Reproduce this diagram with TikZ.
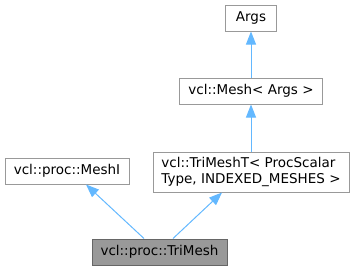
\documentclass[tikz,border=0pt]{standalone}
\usepackage{fontspec}
\setmainfont{DejaVu Sans}
\usetikzlibrary{arrows.meta}
\definecolor{herencia}{HTML}{63B8FF}
\definecolor{borde}{HTML}{999999}
\definecolor{bordeosc}{HTML}{666666}

\begin{document}
\begin{tikzpicture}[
    x=1pt,
    y=-1pt,
    font=\fontsize{13.5}{16.7}\selectfont,
    clase/.style={draw=borde,line width=1pt,fill=white,inner sep=0pt,minimum height=26pt},
    hereda/.style={herencia,line width=1pt,-{Triangle[width=10pt,length=13pt]}}
]
    \useasboundingbox (0,0) rectangle (354,271);

    \node[clase,minimum width=51pt] (args) at (251,18) {Args};
    \node[clase,minimum width=143pt] (mesh) at (251,91) {vcl::Mesh< Args >};
    \node[clase,minimum width=124pt] (meshi) at (67,171) {vcl::proc::MeshI};
    \node[clase,minimum width=196pt,minimum height=40pt,align=left] (trimesht) at (251,172)
        {vcl::TriMeshT< ProcScalar\\Type, INDEXED\_MESHES >};
    \node[clase,draw=bordeosc,fill=borde,minimum width=135pt] (trimesh) at (159.5,252)
        {vcl::proc::TriMesh};

    \draw[hereda] (mesh) -- (args);
    \draw[hereda] (trimesht) -- (mesh);
    \draw[hereda] ([xshift=-15.5pt]trimesh.north) -- ([xshift=19pt]meshi.south);
    \draw[hereda] ([xshift=13.5pt]trimesh.north) -- ([xshift=-29pt]trimesht.south);
\end{tikzpicture}
\end{document}
